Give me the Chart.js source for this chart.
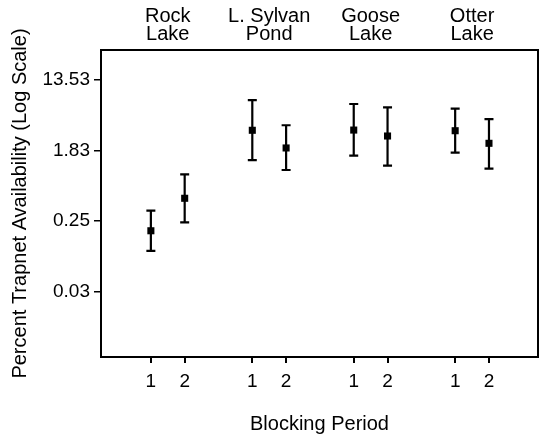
<!DOCTYPE html>
<html>
<head>
<meta charset="utf-8">
<script src="https://cdn.jsdelivr.net/npm/chart.js@4.4.1/dist/chart.umd.min.js"></script>
<style>
  html, body { margin: 0; padding: 0; background: #fff; }
  #wrap { width: 543px; height: 439px; }
</style>
</head>
<body>
<div id="wrap"><canvas id="chart"></canvas></div>
<script>
// --- Data ---
const lakes = [['Rock', 'Lake'], ['L. Sylvan', 'Pond'], ['Goose', 'Lake'], ['Otter', 'Lake']];
const periods = [1, 2];
const lakeOfPoint = [0, 0, 1, 1, 2, 2, 3, 3];
const periodOfPoint = [1, 2, 1, 2, 1, 2, 1, 2];
const means = [0.189, 0.475, 3.27, 1.98, 3.29, 2.78, 3.23, 2.26];
const lower = [0.107, 0.240, 1.40, 1.06, 1.59, 1.20, 1.73, 1.10];
const upper = [0.334, 0.937, 7.71, 3.77, 6.89, 6.27, 6.03, 4.50];
const yTickValues = [0.0335, 0.2479, 1.8316, 13.5335];
const yTickLabels = ['0.03', '0.25', '1.83', '13.53'];

// lakes are spaced three units apart, periods one unit apart
const xOf = (lake, period) => lake * 3 + (period - 1);
const pointX = lakeOfPoint.map((l, i) => xOf(l, periodOfPoint[i]));
const lakeCenters = lakes.map((_, l) => (xOf(l, periods[0]) + xOf(l, periods[1])) / 2);

const FONT = '"Liberation Sans", Arial, Helvetica, sans-serif';

// --- Plugins ---
const errorBars = {
    id: 'errorBars',
    beforeDatasetsDraw(chart) {
        const { ctx, scales: { x, y } } = chart;
        ctx.save();
        ctx.strokeStyle = '#000';
        ctx.lineWidth = 2.2;
        pointX.forEach((xv, i) => {
            const px = x.getPixelForValue(xv);
            const top = y.getPixelForValue(upper[i]);
            const bot = y.getPixelForValue(lower[i]);
            ctx.beginPath();
            ctx.moveTo(px, top); ctx.lineTo(px, bot);
            ctx.moveTo(px - 4.5, top); ctx.lineTo(px + 4.5, top);
            ctx.moveTo(px - 4.5, bot); ctx.lineTo(px + 4.5, bot);
            ctx.stroke();
        });
        ctx.restore();
    }
};

const frame = {
    id: 'frame',
    afterDraw(chart) {
        const { ctx, chartArea: a } = chart;
        ctx.save();
        ctx.strokeStyle = '#000';
        ctx.lineWidth = 2;
        ctx.strokeRect(a.left, a.top, a.right - a.left, a.bottom - a.top);
        ctx.restore();
    }
};

new Chart(document.getElementById('chart'), {
    type: 'scatter',
    data: {
        datasets: [{
            data: pointX.map((xv, i) => ({ x: xv, y: means[i] })),
            pointStyle: 'rect',
            pointRadius: 5,
            pointHoverRadius: 5,
            backgroundColor: '#000',
            borderWidth: 0
        }]
    },
    options: {
        responsive: true,
        maintainAspectRatio: false,
        animation: false,
        layout: { padding: { left: 0, right: 4, top: 0, bottom: 0 } },
        plugins: { legend: { display: false }, tooltip: { enabled: false } },
        scales: {
            x: {
                type: 'linear',
                position: 'bottom',
                min: -1.475,
                max: 11.45,
                afterBuildTicks: (s) => { s.ticks = pointX.map(v => ({ value: v })); },
                afterFit: (s) => { s.height = 82; },
                ticks: {
                    color: '#000',
                    font: { family: FONT, size: 19 },
                    padding: 7.5,
                    maxRotation: 0,
                    autoSkip: false,
                    callback: (v) => {
                        const i = pointX.indexOf(v);
                        return i < 0 ? '' : String(periodOfPoint[i]);
                    }
                },
                grid: { drawOnChartArea: false, drawTicks: true, tickLength: 6, color: '#000', lineWidth: 2 },
                border: { display: false },
                title: {
                    display: true,
                    text: 'Blocking Period',
                    color: '#000',
                    font: { family: FONT, size: 20 },
                    padding: { top: 0, bottom: 3 }
                }
            },
            lakeAxis: {
                type: 'linear',
                axis: 'x',
                position: 'top',
                min: -1.475,
                max: 11.45,
                afterBuildTicks: (s) => { s.ticks = lakeCenters.map(v => ({ value: v })); },
                afterFit: (s) => { s.height = 50; },
                ticks: {
                    color: '#000',
                    font: { family: FONT, size: 20, lineHeight: 0.93 },
                    padding: -2,
                    maxRotation: 0,
                    autoSkip: false,
                    callback: (v) => {
                        const i = lakeCenters.indexOf(v);
                        return i < 0 ? '' : lakes[i];
                    }
                },
                grid: { display: false },
                border: { display: false }
            },
            y: {
                type: 'logarithmic',
                min: 0.00526,
                max: 31.9,
                afterBuildTicks: (s) => { s.ticks = yTickValues.map(v => ({ value: v })); },
                afterFit: (s) => { s.width = 101; },
                ticks: {
                    color: '#000',
                    font: { family: FONT, size: 19 },
                    padding: 4,
                    autoSkip: false,
                    callback: (v) => {
                        const i = yTickValues.indexOf(v);
                        return i < 0 ? '' : yTickLabels[i];
                    }
                },
                grid: { drawOnChartArea: false, drawTicks: true, tickLength: 7, color: '#000', lineWidth: 1.5 },
                border: { display: false },
                title: {
                    display: true,
                    text: 'Percent Trapnet Availability (Log Scale)',
                    color: '#000',
                    font: { family: FONT, size: 20 },
                    padding: { top: 8, bottom: 0 }
                }
            }
        }
    },
    plugins: [errorBars, frame]
});
</script>
</body>
</html>
